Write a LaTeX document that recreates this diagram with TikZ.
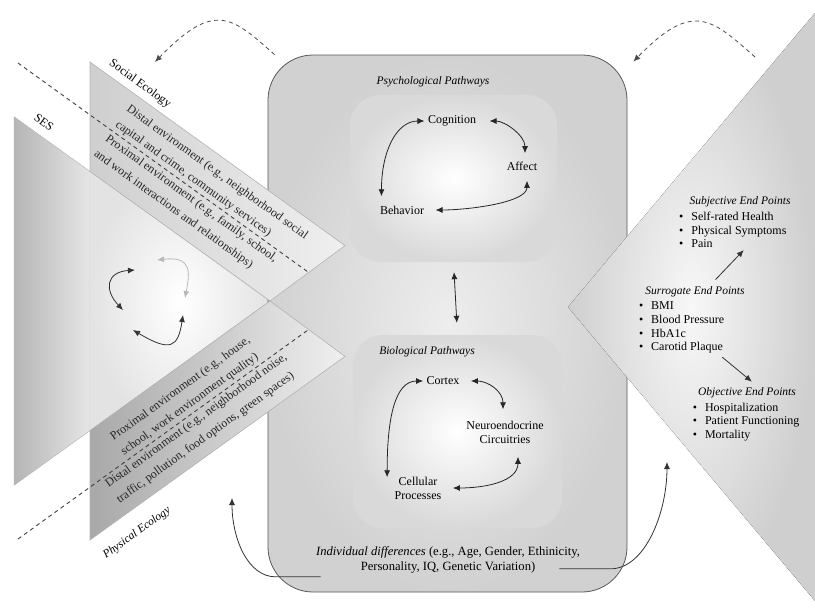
\documentclass[tikz,border=0pt]{standalone}
\usepackage{fontspec}
\setmainfont{Liberation Serif}
\usetikzlibrary{shapes,arrows,arrows.meta,positioning,calc}

\newcommand{\itm}{\textbullet\hspace{8pt}}

\begin{document}
\begin{tikzpicture}[
    x=1pt, y=-1pt,
    font=\fontsize{12}{14}\selectfont,
    >={Latex[length=7pt,width=6pt]},
    link/.style={<->, thick, black!85},
    feed/.style={->, thick, black!80},
    loopback/.style={->, thick, gray!60!black, dash pattern=on 4pt off 3.5pt},
    ring/.style={<->, thick},
    panel/.style={rounded corners=30pt, minimum width=207pt, minimum height=167pt, inner color=white, outer color=gray!30},
    headline/.style={font=\fontsize{11.5}{13}\selectfont\itshape},
    band/.style={draw=gray!60, line width=0.6pt},
    bandtext/.style={font=\fontsize{12}{14}\selectfont, align=left, inner sep=3pt, text=black!85},
    points/.style={align=left, inner sep=0pt, font=\fontsize{12}{13.6}\selectfont},
    divider/.style={black!75, line width=0.9pt, dash pattern=on 4pt off 3.5pt}
]
    \useasboundingbox (0,0) rectangle (815,614);

    % Formes de fond
    \draw[draw=gray!60, left color=gray!58, right color=gray!20] (14,116.7) -- (90,171.4) -- (90,430.6) -- (14,485.3) -- cycle;
    \fill[inner color=white, outer color=gray!22] (90,171.4) -- (270,301) -- (90,430.6) -- cycle;
    \node[draw=gray!70!black, line width=0.8pt, rounded corners=45pt, minimum width=359pt, minimum height=537pt, inner color=gray!14, outer color=gray!36] (core) at (447.5,323.5) {};
    \draw[band, left color=gray!38, right color=gray!12] (90,62) -- (345,245.6) -- (270,301) -- (90,171.4) -- cycle;
    \draw[band, left color=gray!68, right color=gray!12] (90,540) -- (345,356.4) -- (270,301) -- (90,430.6) -- cycle;
    \fill[inner color=gray!6, outer color=gray!38] (815,13) -- (568,307) -- (815,601) -- cycle;
    \draw[divider] (18,63) -- (308.7,272.5);
    \draw[divider] (18,539) -- (308.7,329.5);

    \node[panel] (psybox) at (453.5,178.5) {};
    \node[panel, minimum width=209pt, minimum height=193pt] (biobox) at (457.5,431.5) {};

    % Écologie
    \node[rotate=-35.8] (ses) at (44,122) {SES};
    \node[rotate=-35.8] (soc) at (140,84) {Social Ecology};
    \node[headline, rotate=35.8] (phy) at (137,533) {Physical Ecology};

    \coordinate (socmid) at (109,129);
    \coordinate (phymid) at (125,462);
    \coordinate (phylow) at (99.3,480.4);
    \node[bandtext, rotate=-35.8, anchor=south west] (socdist) at (socmid) {Distal environment (e.g., neighborhood social\\[5pt]capital and crime, community services)};
    \node[bandtext, rotate=-35.8, anchor=north west] (socprox) at (socmid) {Proximal environment (e.g., family, school,\\[5pt]and work interactions and relationships)};
    \node[bandtext, rotate=35.8, anchor=south west] (phyprox) at (phymid) {Proximal environment (e.g., house,\\[4pt]school, work environment quality)};
    \node[bandtext, rotate=35.8, anchor=north west] (phydist) at (phylow) {Distal environment (e.g., neighborhood noise,\\[5pt]traffic, pollution, food options, green spaces)};

    % Cycle
    \coordinate (c1) at (123,310);
    \coordinate (c2) at (135,270);
    \coordinate (c3) at (157,260);
    \coordinate (c4) at (185,298);
    \coordinate (c5) at (183,315);
    \coordinate (c6) at (133,330);
    \draw[ring, gray!40!black] (c1) .. controls (104,290) and (106,272) .. (c2);
    \draw[ring, gray!55] (c3) .. controls (192,256) and (190,272) .. (c4);
    \draw[ring, gray!40!black] (c5) .. controls (178,348) and (170,352) .. (c6);

    % Voies
    \node[headline] (psy) at (433,82) {Psychological Pathways};
    \node (cog) at (452,121) {Cognition};
    \node (aff) at (522,166) {Affect};
    \node (beh) at (402,210) {Behavior};

    \node[headline] (bio) at (427,352) {Biological Pathways};
    \node (ctx) at (443,381) {Cortex};
    \node[align=center] (neu) at (505,432) {Neuroendocrine\\Circuitries};
    \node[align=center] (cel) at (418,488) {Cellular\\Processes};

    \node[align=center, font=\fontsize{12.6}{15}\selectfont] (ind) at (448,560) {\textit{Individual differences} (e.g., Age, Gender, Ethinicity,\\Personality, IQ, Genetic Variation)};

    % Points finaux
    \node[headline] (subjh) at (740,202) {Subjective End Points};
    \node[points, below right=1pt and -7pt of subjh.south west] (subjl) {\itm Self-rated Health\\\itm Physical Symptoms\\\itm Pain};
    \node[headline] (surrh) at (695,292) {Surrogate End Points};
    \node[points, below right=1pt and -3pt of surrh.south west] (surrl) {\itm BMI\\\itm Blood Pressure\\\itm HbA1c\\\itm Carotid Plaque};
    \node[headline] (objh) at (747,393) {Objective End Points};
    \node[points, below right=1pt and -2pt of objh.south west] (objl) {\itm Hospitalization\\\itm Patient Functioning\\\itm Mortality};

    % Flèches
    \draw[link] (cog.west) .. controls +(-28,0) and +(0,-45) .. ([xshift=5pt,yshift=6pt]beh.north west);
    \draw[link, shorten <=10pt] (cog.east) .. controls +(25,0) and +(0,-18) .. ([xshift=3pt,yshift=5pt]aff.north);
    \draw[link, shorten >=8pt] ([xshift=5pt,yshift=-7pt]aff.south) .. controls +(0,22) and +(40,0) .. (beh.east);

    \draw[link] (ctx.west) .. controls +(-28,0) and +(0,-60) .. ([xshift=-4pt,yshift=-4pt]cel.north west);
    \draw[link, shorten <=8pt] (ctx.east) .. controls +(25,0) and +(0,-18) .. ([xshift=-2pt,yshift=8pt]neu.north);
    \draw[link, shorten >=8pt] ([xshift=13pt,yshift=-10pt]neu.south) .. controls +(0,25) and +(40,0) .. (cel.east);

    \draw[link, shorten <=10pt, shorten >=12pt] (psybox.south) -- (biobox.north);

    \draw[feed, shorten <=5pt, shorten >=3pt] ([xshift=17pt]surrh.north) -- ([xshift=13pt]subjl.south);
    \draw[feed, shorten <=6pt, shorten >=4pt] ([xshift=36pt]surrl.south) -- ([xshift=8pt]objh.north);

    \coordinate (ecoin) at (232,498);
    \coordinate (endin) at (667,462);
    \draw[feed] ([xshift=8pt]ind.south west) -- ++(-45,0) .. controls +(-28,0) and +(0,40) .. (ecoin);
    \draw[feed] ([xshift=-24pt,yshift=8pt]ind.south east) -- ++(51,0) .. controls +(35,0) and +(0,50) .. (endin);

    \coordinate (socin) at (155,62);
    \coordinate (endout) at (755,57);
    \draw[loopback] ([xshift=7pt]core.north west) .. controls (232,17) and (215,0) .. (socin);
    \draw[loopback] (endout) .. controls (712,19) and (693,0) .. ([xshift=6pt,yshift=-7pt]core.north east);

\end{tikzpicture}
\end{document}
